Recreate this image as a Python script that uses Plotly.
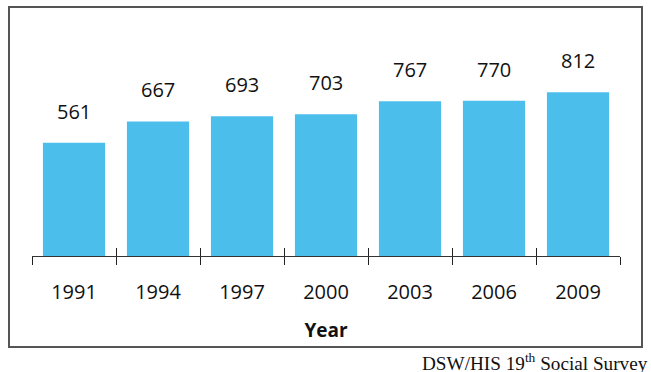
import plotly.graph_objects as go

years = ["1991", "1994", "1997", "2000", "2003", "2006", "2009"]
values = [561, 667, 693, 703, 767, 770, 812]
source_text = "DSW/HIS 19<sup>th</sup> Social Survey"
axis_title = "Year"

BAR_COLOR = "#4CBEEC"
W, H = 651, 372
ML, MR, MT, MB = 32, 31, 20, 116
plot_w = W - ML - MR
plot_h = H - MT - MB


def px_x(px):
    return (px - ML) / plot_w


def px_y(py):
    return (H - MB - py) / plot_h


fig = go.Figure()

fig.add_trace(go.Bar(
    x=years, y=values,
    marker=dict(color=BAR_COLOR, line=dict(width=0)),
    hoverinfo="skip", showlegend=False,
))

# invisible companion trace so the overlay axis (inner tick halves) is drawn
fig.add_trace(go.Scatter(
    x=list(range(len(years))), y=values, xaxis="x2",
    mode="markers", marker=dict(opacity=0),
    hoverinfo="skip", showlegend=False,
))

# value labels above each bar (placed by category index)
for i, v in enumerate(values):
    fig.add_annotation(
        xref="x2", yref="y", x=i, y=v, text=str(v), showarrow=False,
        yanchor="bottom", yshift=16,
        font=dict(family="Open Sans", size=20, color="#111"),
    )

fig.add_annotation(
    xref="paper", yref="paper", x=px_x(650), y=px_y(361.5),
    xanchor="right", yanchor="middle", text=source_text, showarrow=False,
    font=dict(family="Liberation Serif", size=19.2, color="#111"),
)

# outer frame
fig.add_shape(
    type="rect", xref="paper", yref="paper",
    x0=px_x(9), x1=px_x(642), y0=px_y(347), y1=px_y(7),
    line=dict(color="#555", width=2), fillcolor="rgba(0,0,0,0)",
)

fig.update_layout(
    width=W, height=H,
    margin=dict(l=ML, r=MR, t=MT, b=MB),
    paper_bgcolor="white", plot_bgcolor="white",
    bargap=0.26,
    xaxis=dict(
        type="category", range=[-0.5, len(years) - 0.5],
        tickson="boundaries", ticks="outside", ticklen=8, tickwidth=1,
        tickcolor="#222", showline=True, linecolor="#333", linewidth=1,
        showgrid=False, zeroline=False,
        tickfont=dict(family="Open Sans", size=20, color="#111"),
        ticklabelstandoff=18,
        title=dict(text="<b>" + axis_title + "</b>", standoff=19,
                   font=dict(family="Open Sans", size=19, color="#111")),
    ),
    xaxis2=dict(
        overlaying="x", anchor="y", side="bottom",
        range=[-0.5, len(years) - 0.5],
        tickvals=[i - 0.5 for i in range(len(years) + 1)],
        ticks="inside", ticklen=8, tickwidth=1, tickcolor="#222",
        showticklabels=False, showgrid=False, zeroline=False, showline=False,
    ),
    yaxis=dict(range=[0, 1170], visible=False),
)

fig.write_html("out.html")
